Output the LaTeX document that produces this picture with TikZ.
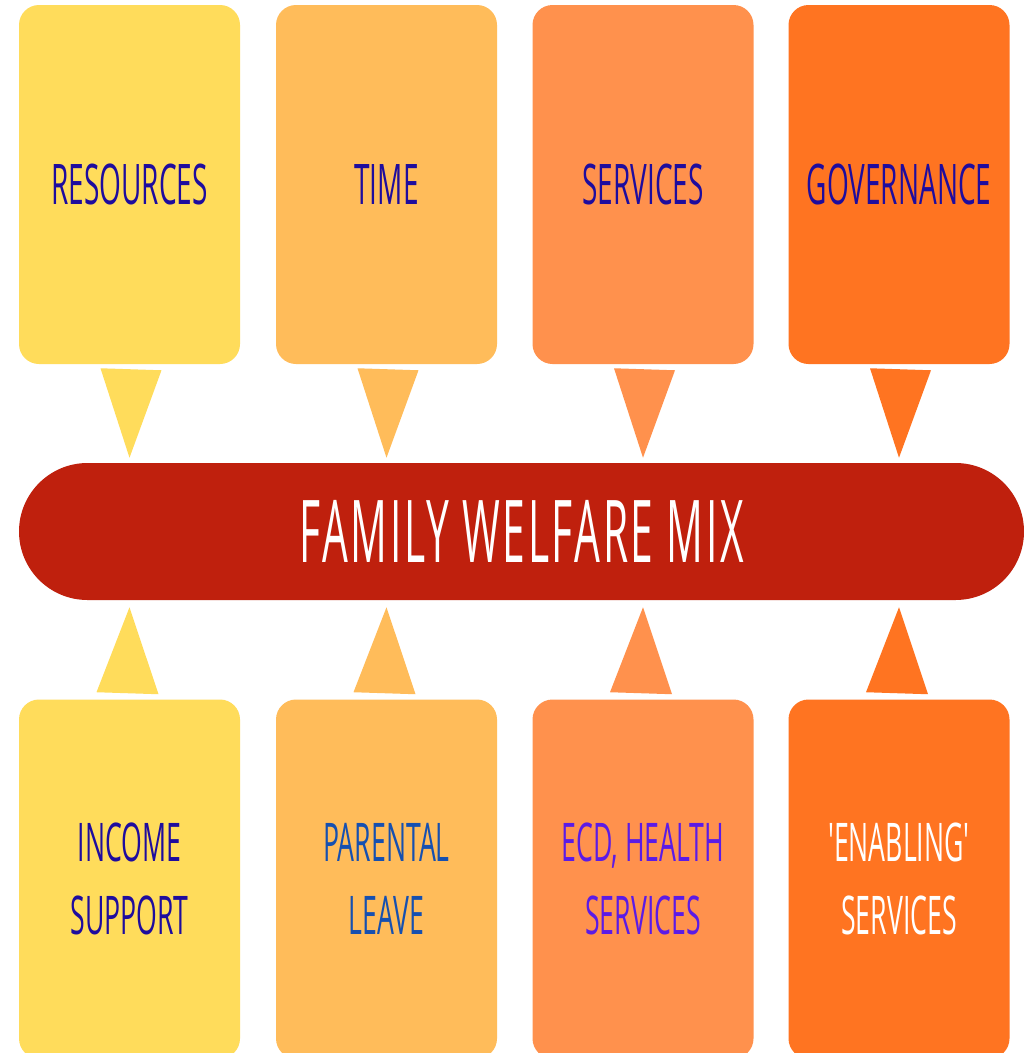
\documentclass[tikz,border=0pt]{standalone}
\usepackage{fontspec}
\usetikzlibrary{calc}
\newfontfamily\handfont[FakeStretch=0.5]{Open Sans}
\newfontfamily\titlefont[FakeStretch=0.47,LetterSpace=3]{Open Sans}
\definecolor{cYel}{HTML}{FFDC5B}
\definecolor{cLor}{HTML}{FFBC5A}
\definecolor{cOra}{HTML}{FF914D}
\definecolor{cDor}{HTML}{FF7421}
\definecolor{cRed}{HTML}{BF200D}
\definecolor{tInd}{HTML}{1E0C9E}
\definecolor{tBlu}{HTML}{1650B0}
\definecolor{tPur}{HTML}{5B1BE6}
\tikzset{
  card/.style={rectangle, rounded corners=15pt, inner sep=0pt,
    minimum width=221*0.75pt, minimum height=359*0.75pt, align=center,
    font=\handfont\fontsize{42}{55}\selectfont},
  lower/.style={font=\handfont\fontsize{40}{55}\selectfont},
  pillbox/.style={rectangle, rounded corners=68.5*0.75pt, inner sep=0pt,
    minimum width=1005*0.75pt, minimum height=137*0.75pt, fill=cRed,
    text=white, font=\titlefont\fontsize{65}{70}\selectfont},
}
\begin{document}
\begin{tikzpicture}[x=0.75pt,y=-0.75pt]
\useasboundingbox[fill=white] (0,0) rectangle (1024,1053);
% central pill
\node[pillbox] (mix) at (521.5,531.5) {FAMILY WELFARE MIX};
% top cards
\node[card, fill=cYel, text=tInd] (t1) at (129.5,184.5) {RESOURCES};
\node[card, fill=cLor, text=tInd] (t2) at (386.5,184.5) {TIME};
\node[card, fill=cOra, text=tInd] (t3) at (643,184.5) {SERVICES};
\node[card, fill=cDor, text=tInd] (t4) at (899,184.5) {GOVERNANCE};
% bottom cards
\node[card, lower, fill=cYel, text=tInd] (b1) at (129.5,879) {INCOME\\SUPPORT};
\node[card, lower, fill=cLor, text=tBlu] (b2) at (386.5,879) {PARENTAL\\LEAVE};
\node[card, lower, fill=cOra, text=tPur] (b3) at (643,879) {ECD, HEALTH\\SERVICES};
\node[card, lower, fill=cDor, text=white] (b4) at (899,879) {'ENABLING'\\SERVICES};
% pointers (top cards into the pill)
\foreach \n/\c in {t1/cYel,t2/cLor,t3/cOra,t4/cDor}{
  \coordinate (\n tip) at ($(\n.south |- mix.north)+(0,-5)$);
  \fill[\c] ($(\n.south)+(-29,4)$) -- ($(\n.south)+(32,6)$) -- (\n tip) -- cycle;
}
% pointers (bottom cards into the pill)
\foreach \n/\c in {b1/cYel,b2/cLor,b3/cOra,b4/cDor}{
  \coordinate (\n tip) at ($(\n.north |- mix.south)+(0,7)$);
  \fill[\c] ($(\n.north)+(-33,-7)$) -- ($(\n.north)+(29,-5)$) -- (\n tip) -- cycle;
}
\end{tikzpicture}
\end{document}
